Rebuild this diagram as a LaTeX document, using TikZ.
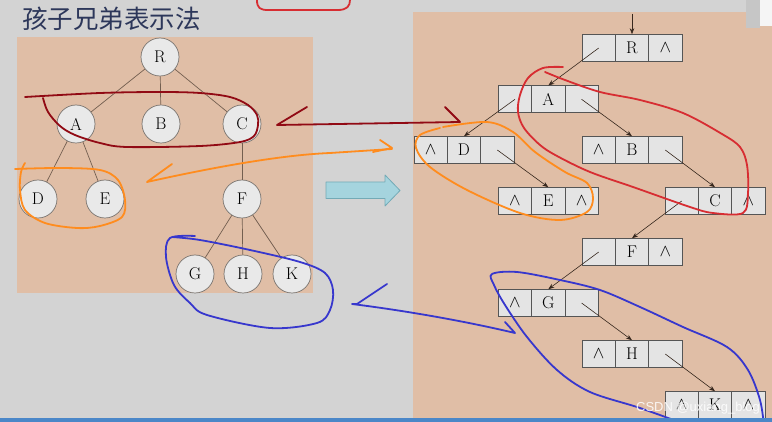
\documentclass[tikz,border=0pt]{standalone}
\usepackage{fontspec}
\newfontfamily\cjkfont{Noto Sans CJK SC}
\newfontfamily\wmfont{Liberation Sans}
\usetikzlibrary{arrows.meta}
\definecolor{bggray}{RGB}{211,211,211}
\definecolor{peach}{RGB}{224,190,166}
\definecolor{circfill}{RGB}{233,233,233}
\definecolor{circline}{RGB}{120,115,110}
\definecolor{edgecol}{RGB}{115,95,80}
\definecolor{cellfill}{RGB}{228,228,228}
\definecolor{cellline}{RGB}{85,85,85}
\definecolor{ptrcol}{RGB}{55,40,30}
\definecolor{titlecol}{RGB}{45,55,90}
\definecolor{dred}{RGB}{145,10,20}
\definecolor{hred}{RGB}{215,45,50}
\definecolor{horange}{RGB}{255,140,30}
\definecolor{hblue}{RGB}{55,55,205}
\definecolor{arrowfill}{RGB}{165,212,222}
\definecolor{arrowline}{RGB}{115,170,182}
\definecolor{barblue}{RGB}{75,135,200}
\newcommand\mkrec[6]{%
  \node[cell] (#1l) at ({#2-33.3},#3) {#4};
  \node[cell] (#1) at (#2,#3) {#5};
  \node[cell] (#1r) at ({#2+33.3},#3) {#6};}
\begin{document}
\begin{tikzpicture}[x=1pt,y=-1pt,
  circ/.style={circle,draw=circline,fill=circfill,minimum size=38pt,inner sep=0pt,line width=0.7pt,font=\fontsize{17}{17}\selectfont},
  cell/.style={rectangle,draw=cellline,fill=cellfill,minimum width=33.3pt,minimum height=26.7pt,inner sep=0pt,line width=0.9pt,font=\fontsize{17}{17}\selectfont},
  edge/.style={draw=edgecol,line width=0.7pt},
  ptr/.style={draw=ptrcol,line width=0.6pt,-{Stealth[length=6pt,width=4.5pt]}},
  hand/.style={line width=1.8pt,line cap=round,line join=round}]
\useasboundingbox (0,0) rectangle (772,422);
\fill[bggray] (0,0) rectangle (772,422);
% panels
\fill[peach] (17,37) rectangle (313,293);
\fill[peach] (413,12) rectangle (772,418);
% title
\node[anchor=west,inner sep=0pt,text=titlecol,font=\cjkfont\fontsize{25.5}{25.5}\selectfont] (title) at (22,19) {孩子兄弟表示法};
% left tree
\node[circ] (tR) at (160,57) {R};
\node[circ] (tA) at (76,124) {A};
\node[circ] (tB) at (161,124) {B};
\node[circ] (tC) at (242,124) {C};
\node[circ] (tD) at (38,199) {D};
\node[circ] (tE) at (105,199) {E};
\node[circ] (tF) at (242,199) {F};
\node[circ] (tG) at (195,274) {G};
\node[circ] (tH) at (243,274) {H};
\node[circ] (tK) at (292,274) {K};
\draw[edge] (tR) -- (tA);
\draw[edge] (tR) -- (tB);
\draw[edge] (tR) -- (tC);
\draw[edge] (tA) -- (tD);
\draw[edge] (tA) -- (tE);
\draw[edge] (tC) -- (tF);
\draw[edge] (tF) -- (tG);
\draw[edge] (tF) -- (tH);
\draw[edge] (tF) -- (tK);
% right: child-sibling records
\mkrec{R}{632}{48}{}{R}{$\wedge$}
\mkrec{A}{548.3}{99.3}{}{A}{}
\mkrec{D}{464}{150}{$\wedge$}{D}{}
\mkrec{B}{632}{150}{$\wedge$}{B}{}
\mkrec{E}{548.3}{201}{$\wedge$}{E}{$\wedge$}
\mkrec{C}{715}{201}{}{C}{$\wedge$}
\mkrec{F}{632}{252}{}{F}{$\wedge$}
\mkrec{G}{548.3}{303}{$\wedge$}{G}{}
\mkrec{H}{632}{354}{$\wedge$}{H}{}
\mkrec{K}{715}{405}{$\wedge$}{K}{$\wedge$}
\coordinate (top) at (632,14);
\draw[ptr] (top) -- (R.north);
\draw[ptr] (Rl.center) -- (A.north);
\draw[ptr] (Al.center) -- (D.north);
\draw[ptr] (Ar.center) -- (B.north);
\draw[ptr] (Dr.center) -- (E.north);
\draw[ptr] (Br.center) -- (C.north);
\draw[ptr] (Cl.center) -- (F.north);
\draw[ptr] (Fl.center) -- (G.north);
\draw[ptr] (Gr.center) -- (H.north);
\draw[ptr] (Hr.center) -- (K.north);
% block arrow
\draw[fill=arrowfill,draw=arrowline,line width=0.8pt,line join=round]
  (326,182) -- (385,182) -- (385,175) -- (400,190.5) -- (385,206) -- (385,198.5) -- (326,198.5) -- cycle;
% hand-drawn annotations
\draw[hand,hred] (257,0) .. controls (257,8) and (260,10) .. (268,10) -- (338,10) .. controls (347,10) and (350,6) .. (350,0);
\draw[hand,dred] plot[smooth,tension=0.55] coordinates {(25,97) (100,93) (160,92) (200,93) (230,97) (248,105) (257,115) (258,125) (254,136) (240,142) (200,146) (127,147) (100,143) (75,135) (60,126) (48,112) (43,98)};
\draw[hand,dred] (307,107) -- (277,125) -- (460,122) -- (445,107);
\draw[hand,hred] plot[smooth,tension=0.55] coordinates {(563,67) (543,68) (528,78) (520,95) (518,112) (524,128) (540,145) (557,156) (590,172) (633,187) (690,207) (713,213) (743,213) (748,193) (747,165) (740,147) (722,134) (683,113) (640,100) (600,92) (565,80) (545,72)};
\draw[hand,horange] plot[smooth,tension=0.55] coordinates {(15,169) (60,168) (100,170) (118,180) (125,200) (122,217) (100,226) (77,228) (45,223) (25,210) (20,190) (21,172) (25,163)};
\draw[hand,horange] (172,164) -- (147,182) .. controls (210,168) and (280,155) .. (330,153) -- (392,149);
\draw[hand,horange] (380,140) -- (392,148) -- (373,152);
\draw[hand,horange] plot[smooth,tension=0.55] coordinates {(443,127) (487,122) (513,132) (535,152) (565,172) (587,183) (593,198) (587,212) (560,220) (520,213) (467,190) (430,167) (416,148) (420,135) (440,128)};
\draw[hand,hblue] plot[smooth,tension=0.55] coordinates {(195,236) (170,238) (166,257) (174,285) (190,303) (207,315) (270,328) (317,323) (330,310) (333,290) (325,273) (300,262) (250,250) (200,240) (172,237)};
\draw[hand,hblue] (387,284) -- (357,304) -- (352,304) .. controls (400,310) and (460,320) .. (515,333) -- (505,322);
\draw[hand,hblue] plot[smooth,tension=0.55] coordinates {(690,426) (640,408) (590,392) (557,370) (527,337) (505,305) (494,285) (492,274) (517,272) (560,280) (600,290) (640,307) (683,327) (727,347) (748,370) (760,400) (764,426)};
% watermark
\node[text=white,opacity=0.85,font=\wmfont\fontsize{13}{13}\selectfont,inner sep=0pt] (wm) at (698,408) {CSDN @uxiang\_blog};
% bottom bar and top-right overlay
\fill[barblue] (0,418) rectangle (772,422);
\fill[gray!45] (746,0) rectangle (760,28);
\fill[white!92!gray] (760,0) rectangle (772,26);
\end{tikzpicture}
\end{document}
